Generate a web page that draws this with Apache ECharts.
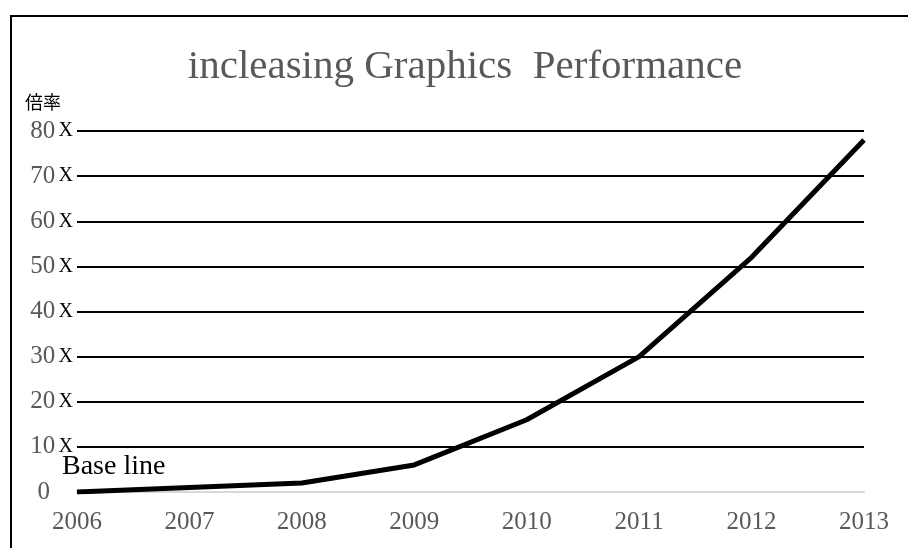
<!DOCTYPE html>
<html>
<head>
<meta charset="utf-8">
<script src="https://cdn.jsdelivr.net/npm/echarts@6/dist/echarts.min.js"></script>
<style>
  html, body { margin: 0; padding: 0; background: #ffffff; }
  #chart { width: 908px; height: 548px; }
</style>
</head>
<body>
<div id="chart"></div>
<script>
// Relative graphics performance by year (multiple of the 2006 base line)
const years = ['2006', '2007', '2008', '2009', '2010', '2011', '2012', '2013'];
const performance = [0, 1, 2, 6, 16, 30, 52, 78];
const titleText = 'incleasing Graphics  Performance';
const yAxisTitle = '倍率';
const baseLabel = 'Base line';

const serif = "'Liberation Serif', 'DejaVu Serif', serif";

const chart = echarts.init(document.getElementById('chart'), null, { renderer: 'canvas' });

chart.setOption({
  animation: false,
  backgroundColor: '#ffffff',
  title: {
    text: titleText,
    left: 465,
    textAlign: 'center',
    top: 47,
    padding: 0,
    textStyle: { fontFamily: serif, fontSize: 41, fontWeight: 'normal', color: '#595959' }
  },
  grid: { left: 77, right: 44, top: 131, bottom: 56, containLabel: false },
  xAxis: {
    type: 'category',
    data: years,
    boundaryGap: false,
    axisLine: { show: true, lineStyle: { color: '#d9d9d9', width: 2 } },
    axisTick: { show: false },
    axisLabel: { fontFamily: serif, fontSize: 25, color: '#595959', margin: 18 }
  },
  yAxis: {
    type: 'value',
    min: 0,
    max: 80,
    interval: 10,
    axisLine: { show: false },
    axisTick: { show: false },
    splitLine: { show: true, showMinLine: false, lineStyle: { color: '#000000', width: 2 } },
    axisLabel: {
      margin: 4,
      formatter: function (v) {
        return v === 0 ? '{n|0}{s|}' : '{n|' + v + '} {x|X}';
      },
      rich: {
        n: { fontFamily: serif, fontSize: 25, color: '#595959' },
        x: { fontFamily: serif, fontSize: 20, color: '#000000' },
        s: { width: 23 }
      }
    }
  },
  series: [{
    type: 'line',
    data: performance,
    showSymbol: false,
    symbol: 'none',
    lineStyle: { color: '#000000', width: 5, join: 'round' },
    z: 5,
    markPoint: {
      symbol: 'circle',
      symbolSize: 0,
      silent: true,
      data: [{ coord: [years[0], performance[0]] }],
      label: {
        show: true,
        formatter: baseLabel,
        position: 'top',
        align: 'left',
        offset: [-15, -6],
        fontFamily: serif,
        fontSize: 28,
        color: '#000000'
      }
    }
  }],
  graphic: [
    {
      type: 'rect',
      shape: { x: 11, y: 16, width: 1000, height: 1000 },
      style: { fill: 'none', stroke: '#000000', lineWidth: 2 },
      silent: true
    },
    {
      type: 'text',
      x: 25,
      y: 93,
      style: { text: yAxisTitle, fontFamily: "'Noto Sans CJK JP', sans-serif", fontSize: 18, fill: '#000000' }
    }
  ]
});
</script>
</body>
</html>
